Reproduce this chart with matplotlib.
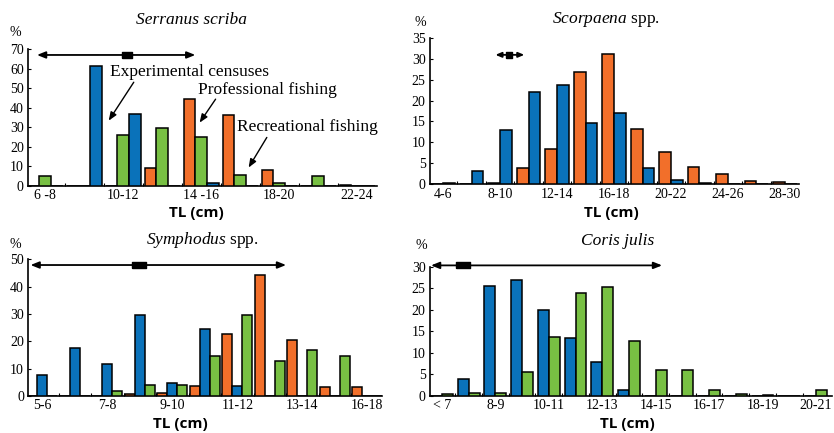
import numpy as np
import matplotlib.pyplot as plt

plt.rcParams['font.family'] = ['Liberation Serif', 'DejaVu Serif']
plt.rcParams['mathtext.fontset'] = 'custom'
plt.rcParams['mathtext.it'] = 'Liberation Serif:italic'
plt.rcParams['mathtext.rm'] = 'Liberation Serif'

c_blue = '#0a72ba'
c_orange = '#f26f2a'
c_green = '#78c043'

# Serranus scriba
cats1 = ['6-8', '8-10', '10-12', '12-14', '14-16', '16-18', '18-20', '20-22', '22-24']
lab1 = ['6 -8', '10-12', '14 -16', '18-20', '22-24']
exp1 = [0, 61.6, 36.6, 0, 1.2, 0, 0, 0, 0]
pro1 = [0, 0, 0, 9.2, 44.3, 36.3, 8.2, 0, 0.6]
rec1 = [5, 0, 26.2, 29.8, 25, 5.6, 1.4, 5, 0]

# Scorpaena spp.
cats2 = ['4-6', '6-8', '8-10', '10-12', '12-14', '14-16', '16-18', '18-20',
         '20-22', '22-24', '24-26', '26-28', '28-30']
lab2 = ['4-6', '8-10', '12-14', '16-18', '20-22', '24-26', '28-30']
exp2 = [0.3, 3.2, 13, 22.1, 23.8, 14.6, 16.9, 3.8, 1, 0.3, 0, 0, 0]
pro2 = [0, 0, 0.25, 4, 8.4, 26.7, 31.1, 13.1, 7.6, 4.1, 2.5, 0.7, 0.5]

# Symphodus spp.
cats3 = ['5-6', '6-7', '7-8', '8-9', '9-10', '10-11', '11-12', '12-13',
         '13-14', '14-16', '16-18']
lab3 = ['5-6', '7-8', '9-10', '11-12', '13-14', '16-18']
exp3 = [7.8, 17.4, 11.7, 29.5, 4.7, 24.5, 3.7, 0, 0, 0, 0]
pro3 = [0, 0, 0, 0.6, 1, 3.7, 22.6, 44.1, 20.5, 3.3, 3.3]
rec3 = [0, 0, 1.9, 4.1, 4.1, 14.7, 29.8, 12.8, 16.9, 14.7, 0]

# Coris julis
cats4 = ['<7', '7-8', '8-9', '9-10', '10-11', '11-12', '12-13', '13-14',
         '14-15', '15-16', '16-17', '17-18', '18-19', '19-20', '20-21']
lab4 = ['< 7', '8-9', '10-11', '12-13', '14-15', '16-17', '18-19', '20-21']
exp4 = [0, 3.9, 25.5, 26.9, 20, 13.4, 8, 1.3, 0, 0, 0, 0, 0, 0, 0]
rec4 = [0.4, 0.6, 0.6, 5.5, 13.8, 24, 25.2, 12.7, 6.1, 6, 1.5, 0.4, 0.25, 0.1, 1.5]

# size ranges: min, mean, max (in class units) and height
rng1 = [-0.21, 2.09, 3.85, 67.1]
rng2 = [1.84, 2.31, 2.85, 30.9]
rng3 = [-0.36, 2.97, 7.5, 47.9]
rng4 = [-0.41, 0.78, 8.24, 30.3]

fig = plt.figure(figsize=(8.34, 4.33), dpi=100)
ax1 = fig.add_axes([0.0336, 0.5711, 0.4185, 0.315])
ax2 = fig.add_axes([0.5152, 0.5744, 0.4424, 0.3386])
ax3 = fig.add_axes([0.0339, 0.0855, 0.4237, 0.3157])
ax4 = fig.add_axes([0.5152, 0.0855, 0.4824, 0.2986])


def bars(ax, series, colors, w):
    n = len(series)
    x = np.arange(len(series[0]))
    for i, (vals, col) in enumerate(zip(series, colors)):
        off = (i - (n - 1) / 2) * w
        ax.bar(x + off, vals, w, color=col, edgecolor='black', linewidth=1.1, zorder=3)


def style(ax, cats, labels, step, ymax, yst, xlim):
    n = len(cats)
    ax.set_xlim(*xlim)
    ax.set_ylim(0, ymax)
    ax.set_xticks(np.arange(0, n, step))
    ax.set_xticklabels(labels, fontsize=10)
    ax.set_xticks(np.arange(0.5, n - 0.5, 1), minor=True)
    ax.tick_params(axis='x', which='major', length=0, pad=2.5)
    ax.tick_params(axis='x', which='minor', direction='in', length=2.5, width=0.8)
    ax.set_yticks(np.arange(0, ymax + 0.1, yst))
    ax.tick_params(axis='y', direction='in', length=2.5, width=0.8, labelsize=10, pad=3)
    ax.spines['top'].set_visible(False)
    ax.spines['right'].set_visible(False)
    for s in ['left', 'bottom']:
        ax.spines[s].set_linewidth(1.2)


def range_arrow(ax, r, mw, mh, msize, head=(0.5, 0.2)):
    ax.annotate('', xy=(r[0], r[3]), xytext=(r[2], r[3]), annotation_clip=False,
                arrowprops=dict(arrowstyle='<|-|>,head_length=%g,head_width=%g' % head,
                                color='black', lw=1.3, shrinkA=0, shrinkB=0))
    ax.plot([r[1]], [r[3]], marker=[(-mw, -mh), (mw, -mh), (mw, mh), (-mw, mh), (-mw, -mh)],
            markersize=msize, color='black', clip_on=False, zorder=5)


bars(ax1, [pro1, rec1, exp1], [c_orange, c_green, c_blue], 0.3)
style(ax1, cats1, lab1, 2, 70, 10, (-0.44, 8.51))
range_arrow(ax1, rng1, 1.0, 0.5, 7.5)

bars(ax2, [pro2, exp2], [c_orange, c_blue], 0.41)
style(ax2, cats2, lab2, 2, 35, 5, (-0.47, 12.48))
range_arrow(ax2, rng2, 1.0, 1.0, 4.0, head=(0.35, 0.15))

bars(ax3, [pro3, exp3, rec3], [c_orange, c_blue, c_green], 0.31)
style(ax3, cats3, lab3, 2, 50, 10, (-0.43, 10.44))
range_arrow(ax3, rng3, 1.0, 0.5, 9.5)

bars(ax4, [exp4, rec4], [c_blue, c_green], 0.41)
style(ax4, cats4, lab4, 2, 30, 5, (-0.46, 14.6))
range_arrow(ax4, rng4, 1.0, 0.5, 9.5)

# labels of the three sources
arw = dict(arrowstyle='-|>,head_length=0.5,head_width=0.2', color='black', lw=1.0)
ax1.text(1.67, 58.4, 'Experimental censuses', fontsize=12.5, va='center')
ax1.annotate('', xy=(1.59, 32.2), xytext=(2.31, 54.3), arrowprops=arw)
ax1.text(3.92, 49.1, 'Professional fishing', fontsize=12.5, va='center')
ax1.annotate('', xy=(3.92, 31.2), xytext=(4.41, 45.6), arrowprops=arw)
ax1.text(4.92, 30.1, 'Recreational fishing', fontsize=12.5, va='center')
ax1.annotate('', xy=(5.18, 8.1), xytext=(5.72, 26.0), arrowprops=arw)

# titles
fig.text(0.230, 0.954, 'Serranus scriba', fontsize=12.5, style='italic', ha='center', va='center')
fig.text(0.727, 0.954, r'$\mathit{Scorpaena}$ spp.', fontsize=12.5, ha='center', va='center')
fig.text(0.243, 0.446, r'$\mathit{Symphodus}$ spp.', fontsize=12.5, ha='center', va='center')
fig.text(0.740, 0.443, 'Coris julis', fontsize=12.5, style='italic', ha='center', va='center')

# y units
for x, y in [(0.018, 0.926), (0.5035, 0.949), (0.018, 0.436), (0.505, 0.434)]:
    fig.text(x, y, '%', fontsize=10, ha='center', va='center')

# x label
for x, y in [(0.236, 0.507), (0.733, 0.507), (0.216, 0.021), (0.752, 0.021)]:
    fig.text(x, y, 'TL (cm)', fontsize=11, fontweight='bold', family=['Open Sans', 'DejaVu Sans'],
             ha='center', va='center')

fig.savefig('out.png', dpi=100)
